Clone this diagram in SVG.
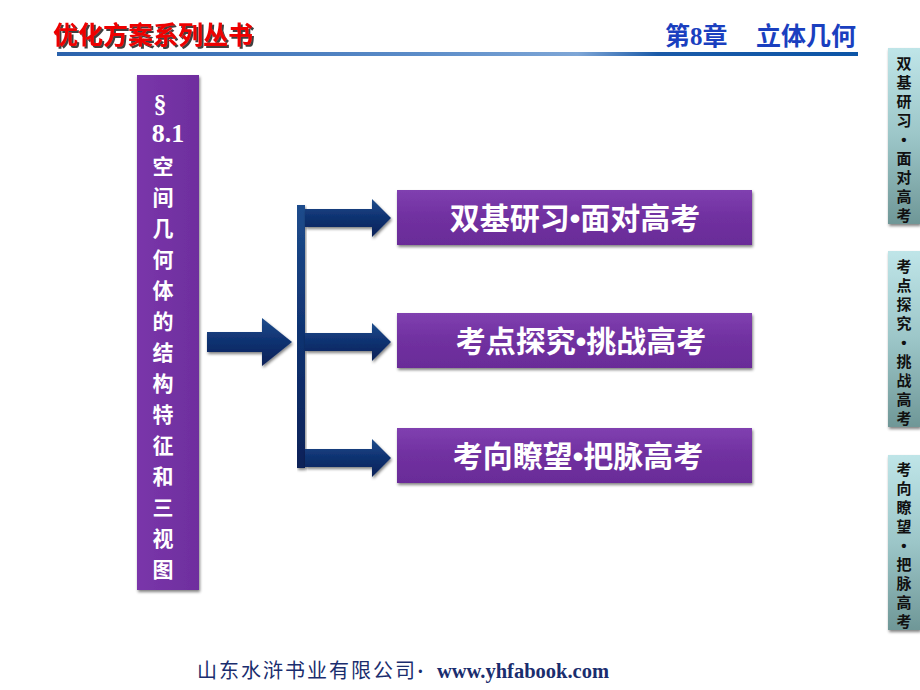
<svg xmlns="http://www.w3.org/2000/svg" width="920" height="690" viewBox="0 0 920 690">
<defs>
  <linearGradient id="purple" x1="0" y1="0" x2="0" y2="1">
    <stop offset="0" stop-color="#8040b0"/>
    <stop offset="0.5" stop-color="#7030a0"/>
    <stop offset="1" stop-color="#6a2c98"/>
  </linearGradient>
  <linearGradient id="purpleV" x1="0" y1="0" x2="1" y2="0">
    <stop offset="0" stop-color="#7a36aa"/>
    <stop offset="1" stop-color="#6e2e9e"/>
  </linearGradient>
  <linearGradient id="teal" x1="0" y1="0" x2="0" y2="1">
    <stop offset="0" stop-color="#bfe5e8"/>
    <stop offset="0.5" stop-color="#9cc6c8"/>
    <stop offset="1" stop-color="#6f9797"/>
  </linearGradient>
  <linearGradient id="navy" x1="0" y1="0" x2="0" y2="1">
    <stop offset="0" stop-color="#1d4c8c"/>
    <stop offset="0.5" stop-color="#0f3170"/>
    <stop offset="1" stop-color="#0a2258"/>
  </linearGradient>
  <linearGradient id="rule" x1="0" y1="0" x2="1" y2="0">
    <stop offset="0" stop-color="#2a62ac"/>
    <stop offset="0.45" stop-color="#5b8cc8"/>
    <stop offset="0.65" stop-color="#7ea6d6"/>
    <stop offset="0.75" stop-color="#1a5aa8"/>
    <stop offset="1" stop-color="#0c55a6"/>
  </linearGradient>
  <filter id="sh" x="-10%" y="-10%" width="130%" height="130%">
    <feGaussianBlur in="SourceAlpha" stdDeviation="1.5"/>
    <feOffset dx="1" dy="2" result="b"/>
    <feComponentTransfer><feFuncA type="linear" slope="0.5"/></feComponentTransfer>
    <feMerge><feMergeNode/><feMergeNode in="SourceGraphic"/></feMerge>
  </filter>
  <filter id="tsh" x="-5%" y="-20%" width="110%" height="150%">
    <feOffset in="SourceAlpha" dx="2" dy="2"/>
    <feComponentTransfer><feFuncA type="linear" slope="0.75"/></feComponentTransfer>
    <feMerge><feMergeNode/><feMergeNode in="SourceGraphic"/></feMerge>
  </filter>
</defs>
<style>
  .hdr{font-family:"Noto Sans CJK SC","Liberation Sans",sans-serif;font-weight:bold;}
  .box{fill:url(#purple);filter:url(#sh);}
  .boxt{font-family:"Noto Sans CJK SC",sans-serif;font-weight:bold;font-size:30px;fill:#ffffff;text-anchor:middle;}
  .dot{font-family:"Liberation Sans",sans-serif;}
  .vt{font-family:"Noto Sans CJK SC",sans-serif;font-weight:bold;font-size:21px;fill:#ffffff;text-anchor:middle;}
  .vn{font-family:"Liberation Serif","Noto Serif CJK SC",serif;font-weight:bold;font-size:26px;}
  .tab{fill:url(#teal);filter:url(#sh);}
  .tabt{font-family:"Noto Sans CJK SC",sans-serif;font-weight:bold;font-size:15px;fill:#111111;text-anchor:middle;}
  .tabd{font-family:"Liberation Sans",sans-serif;}
  .arr{fill:url(#navy);filter:url(#sh);}
</style>

<g id="header">
  <text x="53" y="44" class="hdr" font-size="25" fill="#ee0000" filter="url(#tsh)">优化方案系列丛书</text>
  <text x="665" y="45" class="hdr" font-size="25" fill="#1a3fbf">第<tspan font-family="Liberation Serif,serif">8</tspan>章</text>
  <text x="756" y="45" class="hdr" font-size="25" fill="#1a3fbf">立体几何</text>
  <rect x="57" y="52" width="801" height="4" fill="url(#rule)"/>
</g>

<g id="section-box">
  <rect x="137" y="75" width="62" height="515" fill="url(#purpleV)" filter="url(#sh)"/>
  <text class="vt"><tspan class="vn" x="160" y="113">§</tspan><tspan class="vn" x="168" y="142">8.1</tspan><tspan x="163" y="174">空</tspan><tspan x="163" dy="31">间</tspan><tspan x="163" dy="31">几</tspan><tspan x="163" dy="31">何</tspan><tspan x="163" dy="31">体</tspan><tspan x="163" dy="31">的</tspan><tspan x="163" dy="31">结</tspan><tspan x="163" dy="31">构</tspan><tspan x="163" dy="31">特</tspan><tspan x="163" dy="31">征</tspan><tspan x="163" dy="31">和</tspan><tspan x="163" dy="31">三</tspan><tspan x="163" dy="31">视</tspan><tspan x="163" dy="31">图</tspan></text>
</g>

<g id="connectors">
  <polygon class="arr" points="207,332 262,332 262,318 292,342 262,366 262,352 207,352"/>
  <rect class="arr" x="297" y="205" width="8" height="263"/>
  <polygon class="arr" points="305,209 372,209 372,199 391,218 372,237 372,227 305,227"/>
  <polygon class="arr" points="305,333 372,333 372,323 391,342 372,361 372,351 305,351"/>
  <polygon class="arr" points="305,449 372,449 372,439 391,458 372,477 372,467 305,467"/>
</g>

<g id="node-1">
  <rect class="box" x="397" y="190" width="355" height="55"/>
  <text x="575" y="229" class="boxt">双基研习<tspan class="dot">•</tspan>面对高考</text>
</g>
<g id="node-2">
  <rect class="box" x="397" y="313" width="355" height="55"/>
  <text x="581" y="352" class="boxt">考点探究<tspan class="dot">•</tspan>挑战高考</text>
</g>
<g id="node-3">
  <rect class="box" x="397" y="428" width="355" height="55"/>
  <text x="578" y="467" class="boxt">考向瞭望<tspan class="dot">•</tspan>把脉高考</text>
</g>

<g id="tab-1">
  <rect class="tab" x="888" y="48" width="32" height="176"/>
  <text class="tabt"><tspan x="904" y="69">双</tspan><tspan x="904" dy="19">基</tspan><tspan x="904" dy="19">研</tspan><tspan x="904" dy="19">习</tspan><tspan class="tabd" x="904" dy="19">•</tspan><tspan x="904" dy="19">面</tspan><tspan x="904" dy="19">对</tspan><tspan x="904" dy="19">高</tspan><tspan x="904" dy="19">考</tspan></text>
</g>
<g id="tab-2">
  <rect class="tab" x="888" y="251" width="32" height="176"/>
  <text class="tabt"><tspan x="904" y="272">考</tspan><tspan x="904" dy="19">点</tspan><tspan x="904" dy="19">探</tspan><tspan x="904" dy="19">究</tspan><tspan class="tabd" x="904" dy="19">•</tspan><tspan x="904" dy="19">挑</tspan><tspan x="904" dy="19">战</tspan><tspan x="904" dy="19">高</tspan><tspan x="904" dy="19">考</tspan></text>
</g>
<g id="tab-3">
  <rect class="tab" x="888" y="455" width="32" height="175"/>
  <text class="tabt"><tspan x="904" y="475">考</tspan><tspan x="904" dy="19">向</tspan><tspan x="904" dy="19">瞭</tspan><tspan x="904" dy="19">望</tspan><tspan class="tabd" x="904" dy="19">•</tspan><tspan x="904" dy="19">把</tspan><tspan x="904" dy="19">脉</tspan><tspan x="904" dy="19">高</tspan><tspan x="904" dy="19">考</tspan></text>
</g>

<g id="footer">
  <text x="197" y="678" font-family="Noto Sans CJK SC,sans-serif" font-size="20" letter-spacing="2" fill="#1a2d6e">山东水浒书业有限公司<tspan font-family="Liberation Serif,serif" font-weight="bold" letter-spacing="0">· </tspan><tspan x="437" font-family="Liberation Serif,serif" font-weight="bold" font-size="20.5" letter-spacing="0">www.yhfabook.com</tspan></text>
</g>
</svg>
